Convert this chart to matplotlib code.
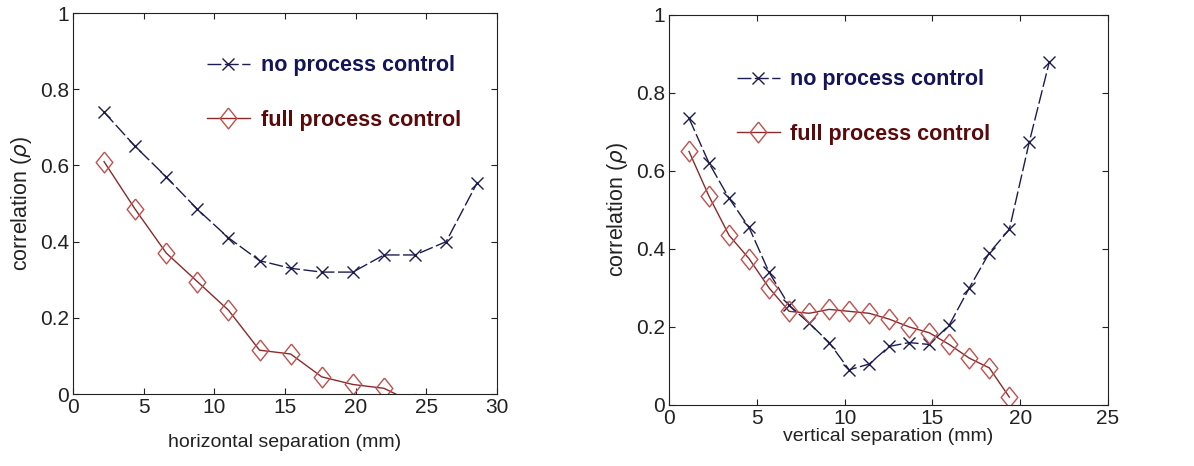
import numpy as np
import matplotlib
matplotlib.use('Agg')
import matplotlib.pyplot as plt

plt.rcParams['font.family'] = ['Liberation Sans', 'DejaVu Sans']

# horizontal separation panel
h_sep = [2.2, 4.4, 6.6, 8.8, 11.0, 13.2, 15.4, 17.6, 19.8, 22.0, 24.2, 26.4, 28.6]
h_no_control = [0.74, 0.65, 0.57, 0.485, 0.41, 0.35, 0.33, 0.32, 0.32, 0.365, 0.365, 0.40, 0.555]
h_full_control = [0.61, 0.485, 0.37, 0.295, 0.22, 0.115, 0.105, 0.045, 0.025, 0.015, -0.025]

# vertical separation panel
v_sep = [1.14, 2.28, 3.42, 4.56, 5.7, 6.84, 7.98, 9.12, 10.26, 11.4, 12.54, 13.68,
         14.82, 15.96, 17.1, 18.24, 19.38, 20.52, 21.66]
v_no_control = [0.735, 0.62, 0.53, 0.455, 0.34, 0.255, 0.21, 0.16, 0.09, 0.105, 0.15, 0.16,
                0.155, 0.205, 0.30, 0.39, 0.45, 0.675, 0.88]
v_full_control = [0.65, 0.535, 0.435, 0.375, 0.30, 0.24, 0.235, 0.245, 0.24, 0.235, 0.22, 0.20,
                  0.185, 0.155, 0.12, 0.095, 0.02]

blue = '#1c1c52'
red_line = '#8a2a2a'
red_mark = '#c0504d'
blue_txt = '#14145a'
red_txt = '#5a0a0a'

# matlab-like diamond, a bit taller than wide
diamond = [(0, 1), (0.8, 0), (0, -1), (-0.8, 0), (0, 1)]

fig = plt.figure(figsize=(11.94, 4.66), dpi=100)
ax1 = fig.add_axes([0.0611, 0.1545, 0.3552, 0.8175])
ax2 = fig.add_axes([0.5603, 0.131, 0.3677, 0.837])


def draw(ax, x, no_c, full_c, xmax, xlabel, leg_pos, xpad):
    ax.plot(x, no_c, color=blue, lw=1.0, dashes=(10, 2.5), marker='x', ms=9, mew=1.0,
            label='no process control')
    ax.plot(x[:len(full_c)], full_c, color=red_line, lw=1.0, marker=diamond, ms=15,
            mfc='none', mec=red_mark, mew=1.0, label='full process control')
    ax.set_xlim(0, xmax)
    ax.set_ylim(0, 1)
    ax.set_yticks([0, 0.2, 0.4, 0.6, 0.8, 1])
    ax.set_yticklabels(['0', '0.2', '0.4', '0.6', '0.8', '1'])
    ax.set_xticks(np.arange(0, xmax + 1, 5))
    ax.tick_params(direction='in', length=4, top=True, right=True, labelsize=15,
                   colors='#222222', pad=3)
    ax.set_xlabel(xlabel, fontsize=14, color='#222222', labelpad=xpad)
    ax.set_ylabel(r'correlation ($\rho$)', fontsize=15.5, color='#222222', labelpad=4)
    for s in ax.spines.values():
        s.set_color('#222222')
    leg = ax.legend(loc='upper left', bbox_to_anchor=leg_pos, frameon=False,
                    handlelength=2.0, handletextpad=0.5, labelspacing=1.55,
                    prop={'weight': 'bold', 'size': 15.5})
    leg.get_texts()[0].set_color(blue_txt)
    leg.get_texts()[1].set_color(red_txt)


draw(ax1, h_sep, h_no_control, h_full_control, 30, 'horizontal separation (mm)', (0.27, 0.94), 12)
draw(ax2, v_sep, v_no_control, v_full_control, 25, 'vertical separation (mm)', (0.11, 0.91), 0)

fig.savefig('out.png', dpi=100)
